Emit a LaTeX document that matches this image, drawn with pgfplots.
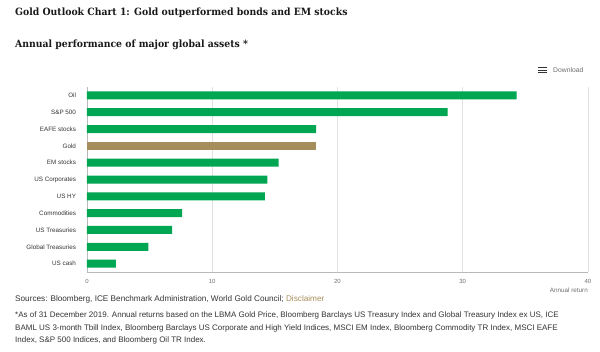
\documentclass[border=0pt]{standalone}
\usepackage{fontspec}
\setmainfont{Liberation Sans}
\newfontfamily\titlefont[FakeStretch=0.93]{DejaVu Serif}
\usepackage{pgfplots}
\pgfplotsset{compat=1.18}
\definecolor{wgcgreen}{RGB}{0,166,81}
\definecolor{wgcgold}{RGB}{166,141,92}
\definecolor{txtdark}{RGB}{51,51,51}
\definecolor{txtgray}{RGB}{110,110,110}
\definecolor{gridgray}{RGB}{225,225,225}
\begin{document}
\begin{tikzpicture}
\useasboundingbox (0pt,0pt) rectangle (600pt,351pt);
% titles
\node[anchor=base west, inner sep=0, text=black!90] at (15pt,335.3pt) {\titlefont\bfseries\fontsize{10}{12}\selectfont Gold Outlook Chart 1: Gold outperformed bonds and EM stocks};
\node[anchor=base west, inner sep=0, text=black!90] at (15pt,303.3pt) {\titlefont\bfseries\fontsize{10}{12}\selectfont Annual performance of major global assets *};
% download
\foreach \yy in {278.5pt,281pt,283.5pt} {\draw[txtdark, line width=0.9pt] (538pt,\yy) -- (547pt,\yy);}
\node[anchor=west, inner sep=0, text=txtgray] at (553pt,281pt) {\fontsize{6.8}{8}\selectfont Download};
\begin{axis}[
  at={(87pt,79pt)}, anchor=south west,
  scale only axis, width=501pt, height=185pt,
  xmin=0, xmax=40, ymin=-0.5, ymax=10.5, y dir=reverse,
  axis x line*=bottom, axis y line*=left,
  axis line style={draw=gray!55, -},
  xtick={0,10,20,30,40},
  ytick={0,...,10},
  yticklabels={Oil,S\&P 500,EAFE stocks,Gold,EM stocks,US Corporates,US HY,Commodities,US Treasuries,Global Treasuries,US cash},
  major tick length=0pt,
  xmajorgrids, grid style={draw=gridgray, line width=0.6pt},
  xticklabel style={font=\fontsize{6}{7}\selectfont, text=txtgray, yshift=-4pt},
  yticklabel style={font=\fontsize{6.3}{8}\selectfont, text=txtdark, xshift=-7.5pt},
  /pgf/number format/assume math mode=true,
  clip=false,
]
\addplot[xbar, bar shift=0pt, bar width=8pt, fill=wgcgreen, draw=none] coordinates {
  (34.3,0) (28.8,1) (18.3,2) (15.3,4) (14.4,5) (14.2,6) (7.6,7) (6.8,8) (4.9,9) (2.3,10)};
\addplot[xbar, bar shift=0pt, bar width=8pt, fill=wgcgold, draw=none] coordinates {(18.3,3)};
\end{axis}
\node[anchor=east, inner sep=0, text=txtgray] at (588pt,61pt) {\fontsize{6.3}{8}\selectfont Annual return};
% footer
\node[anchor=base west, inner sep=0, text=txtdark] at (15pt,49pt) {\fontsize{8.2}{10}\selectfont Sources: Bloomberg, ICE Benchmark Administration, World Gold Council; \textcolor{wgcgold}{Disclaimer}};
\node[anchor=base west, inner sep=0, text=txtdark] at (15pt,34pt) {\fontsize{8}{10}\selectfont *As of 31 December 2019. Annual returns based on the LBMA Gold Price, Bloomberg Barclays US Treasury Index and Global Treasury Index ex US, ICE};
\node[anchor=base west, inner sep=0, text=txtdark] at (15pt,21pt) {\fontsize{8}{10}\selectfont BAML US 3-month Tbill Index, Bloomberg Barclays US Corporate and High Yield Indices, MSCI EM Index, Bloomberg Commodity TR Index, MSCI EAFE};
\node[anchor=base west, inner sep=0, text=txtdark] at (15pt,9pt) {\fontsize{8}{10}\selectfont Index, S\&P 500 Indices, and Bloomberg Oil TR Index.};
\end{tikzpicture}
\end{document}
